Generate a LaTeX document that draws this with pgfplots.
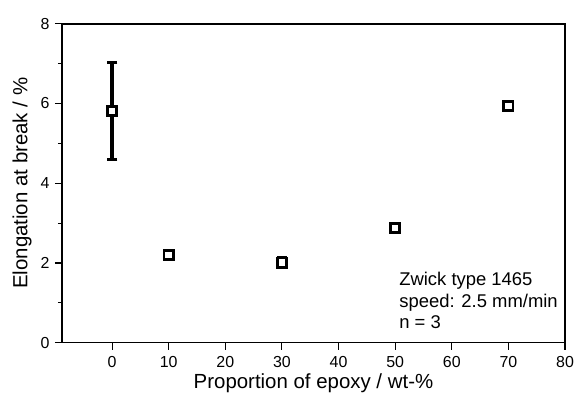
\documentclass[border=0pt]{standalone}
\usepackage{pgfplots}
\pgfplotsset{compat=1.18}
\usepackage{pgfplotstable}
\usepackage{fontspec}
\setmainfont{Liberation Sans}
\pgfplotstableread{
x y
0 5.81
10 2.20
30 2.01
50 2.88
70 5.94
}\datatable
\pgfplotstableread{
x lo hi
0 4.59 7.02
30 1.89 2.13
}\errtable
\begin{document}
\begin{tikzpicture}
\useasboundingbox (-62bp,-59bp) rectangle (512bp,342.7bp);
\begin{axis}[
  at={(0,0)}, anchor=south west,
  scale only axis,
  width=503bp, height=319bp,
  xmin=-8.85, xmax=80, ymin=0, ymax=8,
  xtick={0,10,...,80}, ytick={0,2,...,8},
  minor ytick={1,3,5,7},
  axis line style={line width=1.4bp, black},
  tick style={line width=1.1bp, black},
  tick align=outside,
  xtick pos=bottom, ytick pos=left,
  major tick length=7bp, minor tick length=4bp,
  /pgf/number format/assume math mode=true,
  ticklabel style={font=\fontsize{16}{19}\selectfont},
  xticklabel style={yshift=-3bp},
  yticklabel style={xshift=-2bp},
  xlabel={Proportion of epoxy / wt-\%},
  ylabel={Elongation at break / \%},
  every axis x label/.style={at={(axis description cs:0.5,0)}, yshift=-41bp, anchor=center, font=\fontsize{20.5}{24}\selectfont},
  every axis y label/.style={at={(axis description cs:0,0.5)}, xshift=-40bp, anchor=center, rotate=90, font=\fontsize{20.5}{24}\selectfont},
  clip=false,
]
% error bars: vertical segments and caps
\addplot[black, line width=3.3bp] coordinates {(0,4.59) (0,7.02)};
\addplot[black, line width=3.3bp] coordinates {(30,1.89) (30,2.13)};
\addplot[only marks, black, mark=-, mark size=5.2bp, mark options={line width=3bp}]
  table[x=x, y=lo] {\errtable};
\addplot[only marks, black, mark=-, mark size=5.2bp, mark options={line width=3bp}]
  table[x=x, y=hi] {\errtable};
% means
\addplot[only marks, mark=square*, mark size=4.6bp,
  mark options={fill=white, draw=black, line width=2.7bp}]
  table[x=x, y=y] {\datatable};
\node[anchor=north west, inner sep=0pt, align=left,
  font=\fontsize{18.5}{21.5}\selectfont] at (axis cs:50.7,1.77)
  {Zwick type 1465\\speed: 2.5 mm/min\\n = 3};
\draw[line width=1.6bp, black] (rel axis cs:0,1) -- (rel axis cs:1,1);
\end{axis}
\end{tikzpicture}
\end{document}
